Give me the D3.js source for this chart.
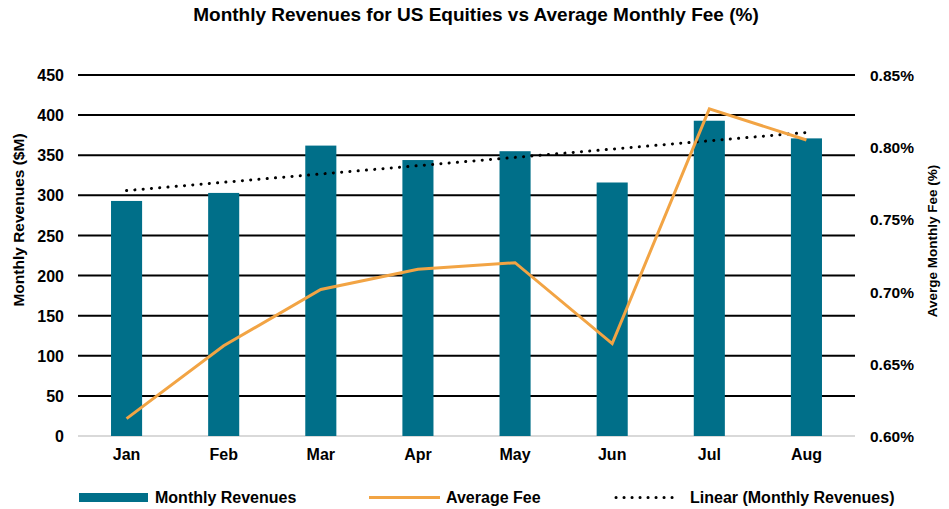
<!DOCTYPE html>
<html><head><meta charset="utf-8">
<script src="https://cdn.jsdelivr.net/npm/d3@7"></script>
<style>
body{margin:0;background:#fff;}
text{font-family:"Liberation Sans",Arial,sans-serif;font-weight:bold;fill:#000;}
</style></head>
<body><svg id="c" width="949" height="509"></svg>
<script>
const months = ["Jan","Feb","Mar","Apr","May","Jun","Jul","Aug"];
const revenues = [293,303,362,344,355,316,393,371];
const avgFee = [0.612,0.6625,0.7015,0.7155,0.720,0.664,0.8265,0.805];
const leftTicks = [0,50,100,150,200,250,300,350,400,450];
const rightTicks = [0.60,0.65,0.70,0.75,0.80,0.85];

const svg = d3.select("#c");
const L = 78, R = 855, T = 75, B = 436;

const x = d3.scaleBand().domain(months).range([L,R]).paddingInner(0.68).paddingOuter(0.34);
const y = d3.scaleLinear().domain([0,450]).range([B,T]);
const y2 = d3.scaleLinear().domain([0.60,0.85]).range([B,T]);

svg.append("text").attr("x",476).attr("y",21).attr("text-anchor","middle")
  .style("font-size","19px").text("Monthly Revenues for US Equities vs Average Monthly Fee (%)");

// gridlines
svg.append("g").selectAll("line").data(leftTicks).join("line")
  .attr("x1",L).attr("x2",R).attr("y1",d=>y(d)).attr("y2",d=>y(d))
  .attr("stroke",d=>d===0?"#d9d9d9":"#000").attr("stroke-width",2);

// left axis
const ga = svg.append("g").attr("transform",`translate(${L-14},0)`)
  .call(d3.axisLeft(y).tickValues(leftTicks).tickSize(0).tickPadding(0));
ga.select(".domain").remove();
ga.selectAll("text").style("font-size","16px").attr("dy","0.35em");

// right axis
const gr = svg.append("g").attr("transform",`translate(${R+15},0)`)
  .call(d3.axisRight(y2).tickValues(rightTicks).tickSize(0).tickPadding(0).tickFormat(d=>d.toFixed(2)+"%"));
gr.select(".domain").remove();
gr.selectAll("text").style("font-size","15.5px").attr("dy","0.35em");

// x axis
const gx = svg.append("g").attr("transform",`translate(0,${B+13})`)
  .call(d3.axisBottom(x).tickSize(0).tickPadding(0));
gx.select(".domain").remove();
gx.selectAll("text").style("font-size","16px").attr("dy","0.71em");

// axis titles
svg.append("text").attr("transform",`translate(24,220) rotate(-90)`).attr("text-anchor","middle")
  .style("font-size","15.5px").text("Monthly Revenues ($M)");
svg.append("text").attr("transform",`translate(937,241) rotate(-90)`).attr("text-anchor","middle")
  .style("font-size","13.5px").text("Averge Monthly Fee (%)");

// bars
svg.append("g").selectAll("rect").data(months).join("rect")
  .attr("x",d=>x(d)).attr("width",x.bandwidth())
  .attr("y",(d,i)=>y(revenues[i])).attr("height",(d,i)=>B-y(revenues[i]))
  .attr("fill","#006F89");

// trend line (least squares of revenues)
const n = revenues.length, mx = (n-1)/2, my = d3.mean(revenues);
let sxy=0,sxx=0; revenues.forEach((v,i)=>{sxy+=(i-mx)*(v-my);sxx+=(i-mx)*(i-mx);});
const slope = sxy/sxx, icpt = my - slope*mx;
const cx = d=>x(d)+x.bandwidth()/2;
svg.append("line").attr("x1",cx(months[0])).attr("x2",cx(months[n-1]))
  .attr("y1",y(icpt)).attr("y2",y(icpt+slope*(n-1)))
  .attr("stroke","#000").attr("stroke-width",3).attr("stroke-linecap","round")
  .attr("stroke-dasharray","0.1 8.2");

// fee line
svg.append("path").datum(avgFee)
  .attr("d",d3.line().x((d,i)=>cx(months[i])).y(d=>y2(d)))
  .attr("fill","none").attr("stroke","#F2A444").attr("stroke-width",3);

// legend
const lg = svg.append("g");
lg.append("rect").attr("x",79).attr("y",493).attr("width",69).attr("height",9).attr("fill","#006F89");
lg.append("text").attr("x",155).attr("y",503).style("font-size","16px").text("Monthly Revenues");
lg.append("line").attr("x1",369).attr("x2",440).attr("y1",497.5).attr("y2",497.5).attr("stroke","#F2A444").attr("stroke-width",3);
lg.append("text").attr("x",446).attr("y",503).style("font-size","16px").text("Average Fee");
lg.append("line").attr("x1",616).attr("x2",680).attr("y1",497.5).attr("y2",497.5)
  .attr("stroke","#000").attr("stroke-width",3).attr("stroke-linecap","round").attr("stroke-dasharray","0.1 7.9");
lg.append("text").attr("x",690).attr("y",503).style("font-size","16px").text("Linear (Monthly Revenues)");
</script></body></html>
